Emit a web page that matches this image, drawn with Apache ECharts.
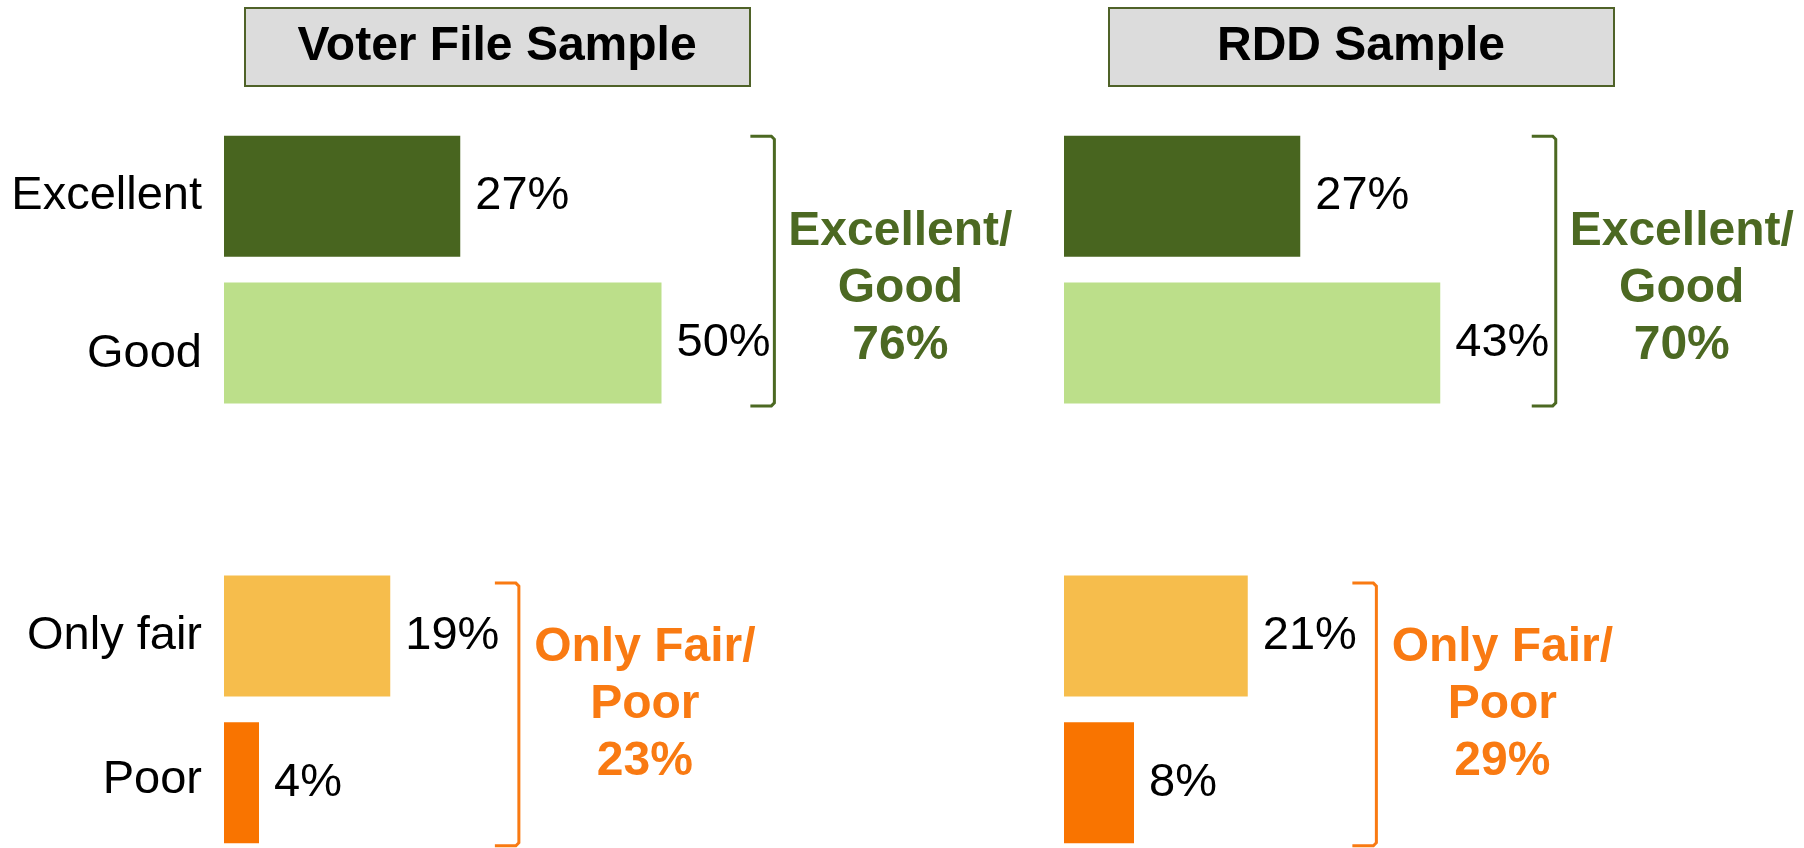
<!DOCTYPE html>
<html>
<head>
<meta charset="utf-8">
<style>
  html, body { margin: 0; padding: 0; background: #fff; }
  #chart { width: 1804px; height: 848px; }
</style>
<script src="https://cdn.jsdelivr.net/npm/echarts@6/dist/echarts.min.js"></script>
</head>
<body>
<div id="chart"></div>
<script>
// data
const categories = ['Excellent', 'Good', '', 'Only fair', 'Poor'];
const voterFile = [27, 50, null, 19, 4];
const rddSample = [27, 43, null, 21, 8];
const panelTitles = ['Voter File Sample', 'RDD Sample'];
const groupNames = ['Excellent/\nGood', 'Only Fair/\nPoor'];
const voterTotals = [76, 23];
const rddTotals = [70, 29];

const FONT = '"Liberation Sans", Arial, Helvetica, sans-serif';
const barColors = ['#48651f', '#bcdf8a', null, '#f6bd4c', '#f97400'];
const groupColors = ['#4c6922', '#f97a12'];
const groupSpans = [[0, 1], [3, 4]];          // category indexes under each bracket
const bracketX = [[62.9, 33.7], [56.2, 35.7]]; // bracket position in axis units, per panel
const bracketPad = [[-60, 63], [-53, 63]];      // top / bottom overhang of brackets
const textOffset = [19, -5];
const labelShift = [0, 11, 0, 0, -3];            // small vertical nudges of category labels
const titleX = [245, 1109];

const chart = echarts.init(document.getElementById('chart'));
const grids = [224, 1064].map(left => ({
    left, top: 123, width: 525, height: 733,
    outerBoundsMode: 'none', containLabel: false
}));

const catRich = {};
labelShift.forEach((s, k) => {
    catRich['s' + k] = {
        fontFamily: FONT, fontSize: 47, color: '#000',
        padding: s >= 0 ? [2 * s, 0, 0, 0] : [0, 0, -2 * s, 0]
    };
});

function barSeries(values, i) {
    return {
        type: 'bar', xAxisIndex: i, yAxisIndex: i,
        barWidth: 121,
        silent: true,
        data: values.map((v, k) => v == null ? '-' : { value: v, itemStyle: { color: barColors[k] } }),
        label: {
            show: true, position: 'right', distance: 15, formatter: '{c}%',
            color: '#000', fontFamily: FONT, fontSize: 47
        }
    };
}

chart.setOption({
    animation: false,
    grid: grids,
    xAxis: grids.map((g, i) => ({ type: 'value', gridIndex: i, min: 0, max: 60, show: false })),
    yAxis: grids.map((g, i) => ({
        type: 'category', gridIndex: i, data: categories, inverse: true,
        axisLine: { show: false }, axisTick: { show: false }, splitLine: { show: false },
        axisLabel: {
            show: i === 0, margin: 22, color: '#000', fontFamily: FONT, fontSize: 47,
            formatter: (v, idx) => v ? '{s' + idx + '|' + v + '}' : '',
            rich: catRich
        }
    })),
    series: [barSeries(voterFile, 0), barSeries(rddSample, 1)]
});

function buildGraphic() {
    const els = [];
    panelTitles.forEach((t, i) => {
        els.push({
            type: 'rect', shape: { x: titleX[i], y: 8, width: 505, height: 78 },
            style: { fill: '#dcdcdc', stroke: '#4f6228', lineWidth: 2 }
        });
        els.push({
            type: 'text', x: titleX[i] + 252, y: 47,
            style: { text: t, font: 'bold 48px ' + FONT, fill: '#000', align: 'center', verticalAlign: 'middle' }
        });
    });
    [voterTotals, rddTotals].forEach((totals, p) => {
        groupSpans.forEach((span, g) => {
            const [x, y0] = chart.convertToPixel({ gridIndex: p }, [bracketX[p][g], span[0]]);
            const [, y1] = chart.convertToPixel({ gridIndex: p }, [bracketX[p][g], span[1]]);
            const top = y0 + bracketPad[g][0];
            const bot = y1 + bracketPad[g][1];
            els.push({
                type: 'polyline',
                shape: { points: [[x - 24, top], [x - 3, top], [x, top + 3], [x, bot - 3], [x - 3, bot], [x - 24, bot]] },
                style: { stroke: groupColors[g], lineWidth: 3, fill: null }
            });
            els.push({
                type: 'text', x: x + 126, y: (y0 + y1) / 2 + textOffset[g],
                style: {
                    text: groupNames[g] + '\n' + totals[g] + '%',
                    font: 'bold 48px ' + FONT, lineHeight: 57,
                    fill: groupColors[g], align: 'center', verticalAlign: 'middle'
                }
            });
        });
    });
    return els;
}

chart.setOption({ graphic: buildGraphic() });
</script>
</body>
</html>
